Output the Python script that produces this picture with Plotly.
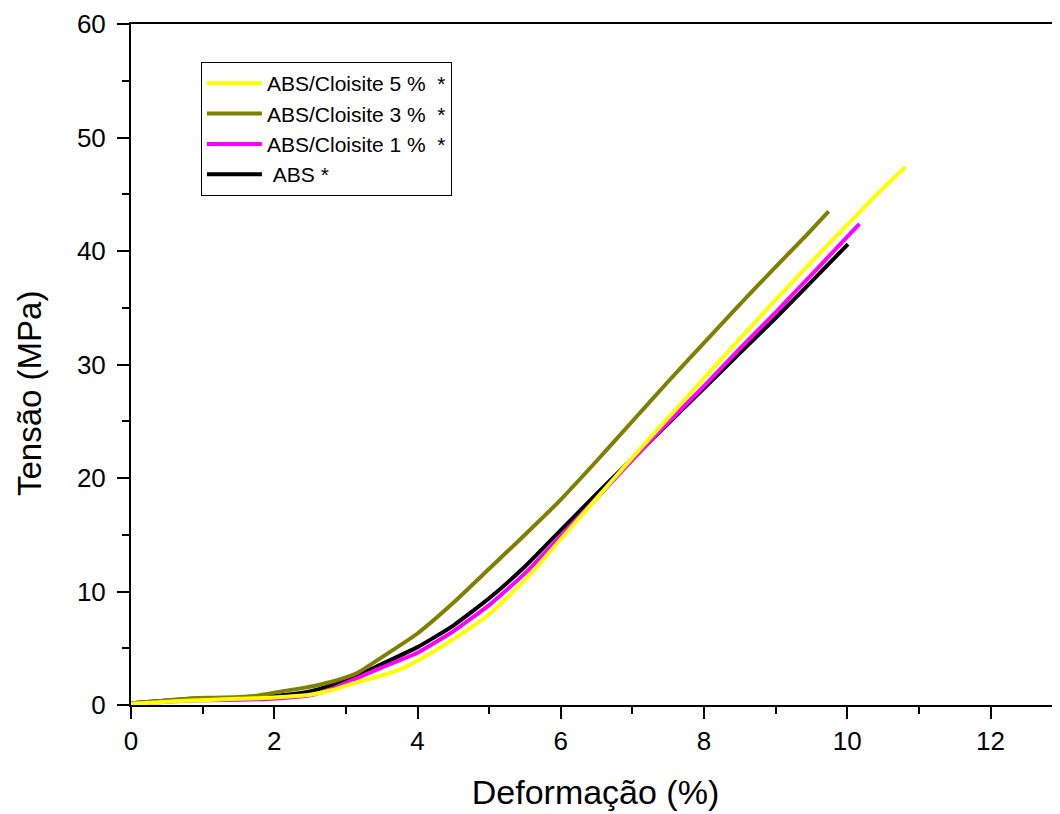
import plotly.graph_objects as go

# ---- data ----
x_abs = [0, 0.4, 0.85, 1.3, 1.75, 2.1, 2.5, 2.8, 3.15, 3.5, 4.0, 4.5, 5.0, 5.5, 6.0, 6.5, 7.0, 7.5, 8.0, 8.5, 9.0, 9.5, 10.01]
y_abs = [0.15, 0.35, 0.55, 0.6, 0.65, 0.85, 1.2, 1.75, 2.55, 3.6, 5.1, 7.0, 9.4, 12.2, 15.4, 18.6, 21.7, 24.8, 27.9, 31.0, 34.1, 37.3, 40.6]

x_c1 = [0, 0.4, 0.85, 1.3, 1.75, 2.1, 2.5, 2.8, 3.15, 3.5, 4.0, 4.5, 5.0, 5.5, 6.0, 6.5, 7.0, 7.5, 8.0, 8.5, 9.0, 9.5, 10.17]
y_c1 = [0.15, 0.25, 0.4, 0.45, 0.5, 0.6, 0.85, 1.4, 2.35, 3.3, 4.6, 6.5, 8.8, 11.6, 14.9, 18.2, 21.6, 24.9, 28.1, 31.4, 34.6, 37.9, 42.4]

x_c3 = [0, 0.4, 0.85, 1.3, 1.75, 2.1, 2.45, 2.8, 3.15, 3.5, 4.0, 4.5, 5.0, 5.5, 6.0, 6.5, 7.0, 7.5, 8.0, 8.5, 9.0, 9.4, 9.74]
y_c3 = [0.15, 0.35, 0.6, 0.65, 0.82, 1.2, 1.55, 2.05, 2.8, 4.2, 6.3, 9.0, 12.0, 15.0, 18.1, 21.5, 25.0, 28.5, 31.9, 35.3, 38.6, 41.2, 43.5]

x_c5 = [0, 0.4, 0.85, 1.3, 1.75, 2.1, 2.5, 2.8, 3.15, 3.5, 3.8, 4.1, 4.5, 5.0, 5.5, 6.0, 6.5, 7.0, 7.5, 8.0, 8.5, 9.0, 9.5, 10.0, 10.4, 10.81]
y_c5 = [0.1, 0.25, 0.4, 0.5, 0.6, 0.7, 0.9, 1.3, 2.0, 2.6, 3.25, 4.25, 5.8, 8.0, 11.0, 14.6, 18.2, 21.8, 25.3, 28.8, 32.25, 35.7, 39.05, 42.3, 44.9, 47.4]

names = ["\u00a0ABS *", "ABS/Cloisite 1 %\u00a0\u00a0*", "ABS/Cloisite 3 %\u00a0\u00a0*", "ABS/Cloisite 5 %\u00a0\u00a0*"]
colors = ["#000000", "#FF00FF", "#808000", "#FFFF00"]

x_ticks = [0, 2, 4, 6, 8, 10, 12]
y_ticks = [0, 10, 20, 30, 40, 50, 60]

x_title = "Deforma\u00e7\u00e3o (%)"
y_title = "Tens\u00e3o (MPa)"

FONT = "Liberation Sans, Arial, sans-serif"

fig = go.Figure()
for xs, ys, nm, col in zip([x_abs, x_c1, x_c3, x_c5], [y_abs, y_c1, y_c3, y_c5], names, colors):
    fig.add_trace(go.Scatter(x=xs, y=ys, mode="lines", name=nm,
                             line=dict(color=col, width=4, shape="spline", smoothing=0.5)))

fig.update_layout(
    width=1052, height=806,
    margin=dict(l=123, r=0, t=16, b=109, autoexpand=False),
    paper_bgcolor="white", plot_bgcolor="white",
    font=dict(family=FONT, color="black"),
    showlegend=True,
    legend=dict(
        x=0.0753, y=0.944, xanchor="left", yanchor="top",
        traceorder="reversed",
        bgcolor="white", bordercolor="black", borderwidth=1,
        font=dict(size=21, family=FONT, color="black"),
        itemwidth=55, tracegroupgap=0,
    ),
    annotations=[dict(
        text=y_title, textangle=-90, xref="paper", yref="paper",
        x=-0.1087, y=0.4567, xanchor="center", yanchor="middle",
        showarrow=False, font=dict(size=33, family=FONT, color="black"),
    )],
)

fig.update_xaxes(
    range=[0, 12.97], tickvals=x_ticks, ticktext=[str(v) for v in x_ticks],
    showgrid=False, zeroline=False,
    showline=True, linecolor="black", linewidth=2, mirror=True,
    ticks="outside", ticklen=12, tickwidth=2, tickcolor="black",
    minor=dict(ticks="outside", ticklen=7, tickwidth=2, tickcolor="black", dtick=1),
    tickfont=dict(size=26, family=FONT),
    title=dict(text=x_title, font=dict(size=34, family=FONT), standoff=25),
)
fig.update_yaxes(
    range=[0, 60], tickvals=y_ticks, ticktext=[str(v) for v in y_ticks],
    showgrid=False, zeroline=False,
    showline=True, linecolor="black", linewidth=2, mirror=False,
    ticks="outside", ticklen=12, tickwidth=2, tickcolor="black",
    minor=dict(ticks="outside", ticklen=7, tickwidth=2, tickcolor="black", dtick=5),
    tickfont=dict(size=26, family=FONT),
    ticklabelstandoff=6,
)

fig.write_html("out.html")
